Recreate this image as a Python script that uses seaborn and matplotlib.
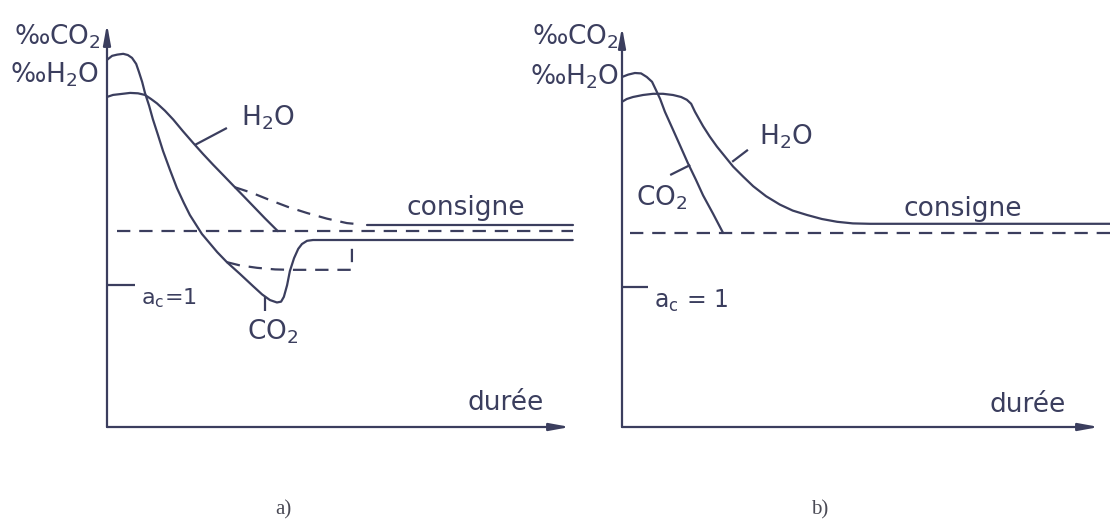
import matplotlib
matplotlib.use("Agg")
import matplotlib.pyplot as plt
import seaborn as sns

# ---------------------------------------------------------------------------
# Carburising atmosphere: CO2 and H2O content versus time (schematic curves)
# a) without correction, b) with correction of the setpoint ("consigne")
# Units are arbitrary: duration 0-10, concentration 0-10.
# ---------------------------------------------------------------------------

# panel a
co2_a_t = [0.00, 0.11, 0.22, 0.35, 0.45, 0.54, 0.63, 0.69, 0.76, 0.82, 0.91,
           0.99, 1.10, 1.21, 1.36, 1.51, 1.66, 1.79, 2.05, 2.38, 2.59, 2.87,
           3.15, 3.35, 3.52, 3.67, 3.76, 3.82, 3.89, 3.95, 4.04, 4.13, 4.21,
           4.32, 4.45, 10.06]
co2_a_pct = [9.11, 9.21, 9.24, 9.26, 9.23, 9.16, 9.01, 8.81, 8.56, 8.29, 7.97,
             7.64, 7.25, 6.85, 6.38, 5.93, 5.56, 5.26, 4.79, 4.34, 4.09, 3.80,
             3.50, 3.29, 3.15, 3.09, 3.11, 3.23, 3.52, 3.87, 4.19, 4.42, 4.54,
             4.62, 4.64, 4.64]

h2o_a_t = [0.00, 0.13, 0.28, 0.50, 0.67, 0.82, 0.95, 1.08, 1.25, 1.43, 1.64,
           1.86, 2.07, 2.29, 2.51, 2.72, 2.94, 3.15, 3.41, 3.69]
h2o_a_pct = [8.19, 8.24, 8.26, 8.29, 8.28, 8.24, 8.14, 8.03, 7.85, 7.63, 7.34,
             7.05, 6.78, 6.51, 6.25, 6.00, 5.74, 5.49, 5.18, 4.86]

# expected H2O course (dashed) and its settled level
h2o_a_exp_t = [2.76, 3.13, 3.52, 3.91, 4.32, 4.75, 5.18, 5.36]
h2o_a_exp_pct = [5.95, 5.81, 5.63, 5.46, 5.31, 5.17, 5.06, 5.04]
h2o_a_end_t = [5.62, 10.06]
h2o_a_end_pct = [5.01, 5.01]

# expected CO2 course (dashed)
co2_a_exp_t = [2.59, 2.87, 3.24, 3.63, 3.95, 5.29, 5.29]
co2_a_exp_pct = [4.09, 4.01, 3.95, 3.91, 3.90, 3.90, 4.64]

setpoint_a_t = [0.22, 10.06]
setpoint_a_pct = [4.86, 4.86]
ac_level_a = 3.52

# panel b
co2_b_t = [0.00, 0.13, 0.27, 0.40, 0.52, 0.63, 0.71, 0.80, 0.90, 1.07, 1.22,
           1.38, 1.55, 1.70, 1.91, 2.12]
co2_b_pct = [8.75, 8.81, 8.85, 8.84, 8.75, 8.63, 8.43, 8.20, 7.88, 7.43, 7.03,
             6.60, 6.18, 5.79, 5.33, 4.85]

h2o_b_t = [0.00, 0.10, 0.23, 0.44, 0.65, 0.86, 1.07, 1.24, 1.36, 1.45, 1.49,
           1.53, 1.61, 1.70, 1.84, 1.99, 2.16, 2.33, 2.54, 2.75, 3.02, 3.31,
           3.58, 3.88, 4.19, 4.51, 4.84, 5.20, 10.23]
h2o_b_pct = [8.13, 8.20, 8.25, 8.30, 8.33, 8.33, 8.30, 8.25, 8.18, 8.08, 7.98,
             7.88, 7.71, 7.52, 7.26, 7.01, 6.76, 6.51, 6.26, 6.02, 5.77, 5.56,
             5.41, 5.30, 5.20, 5.13, 5.09, 5.08, 5.08]

setpoint_b_t = [0.17, 10.23]
setpoint_b_pct = [4.85, 4.85]
ac_level_b = 3.50

# ---------------------------------------------------------------------------
sns.set_style("white")
plt.rcParams["font.family"] = ["DejaVu Sans"]
plt.rcParams["mathtext.default"] = "regular"

INK = "#3b3e5e"
LW = 1.6
DASH = (0, (6, 4))
FS = 19

W, H = 1110, 524
fig = plt.figure(figsize=(W / 100, H / 100), dpi=100)
fig.patch.set_facecolor("white")

ax_a = fig.add_axes([107 / W, 97 / H, 10.2 * 46.3 / W, 403 / H])
ax_b = fig.add_axes([622 / W, 97 / H, 10.25 * 47.7 / W, 400 / H])


def frame(ax, xmax, xarrow):
    ax.set_xlim(0, xmax)
    ax.set_ylim(0, 10)
    ax.set_axis_off()
    head = "-|>,head_length=1.2,head_width=0.22"
    for tip in ((0, 10), (xarrow, 0)):
        ax.annotate("", xy=tip, xytext=(0, 0), xycoords="data",
                    arrowprops=dict(arrowstyle=head, color=INK, lw=LW,
                                    shrinkA=0, shrinkB=0, mutation_scale=10))


def curve(ax, t, pct, dashed=False):
    sns.lineplot(x=t, y=pct, ax=ax, color=INK, linewidth=LW, sort=False,
                 estimator=None, linestyle=DASH if dashed else "-",
                 solid_joinstyle="round", dash_joinstyle="round")


def leader(ax, xs, ys):
    ax.plot(xs, ys, color=INK, lw=LW, solid_capstyle="butt")


def label(ax, x, y, s, ha="center", size=FS):
    ax.text(x, y, s, ha=ha, va="baseline", fontsize=size, color=INK)


# ---- panel a ----
frame(ax_a, 10.2, 10.0)
curve(ax_a, setpoint_a_t, setpoint_a_pct, dashed=True)
curve(ax_a, h2o_a_exp_t, h2o_a_exp_pct, dashed=True)
curve(ax_a, co2_a_exp_t, co2_a_exp_pct, dashed=True)
curve(ax_a, co2_a_t, co2_a_pct)
curve(ax_a, h2o_a_t, h2o_a_pct)
curve(ax_a, h2o_a_end_t, h2o_a_end_pct)

leader(ax_a, [0, 0.60], [ac_level_a, ac_level_a])
label(ax_a, 1.33, 3.03, "a$_c$=1", size=16)
leader(ax_a, [1.90, 2.59], [7.00, 7.42])
label(ax_a, 3.47, 7.49, "H$_2$O")
leader(ax_a, [3.41, 3.41], [3.22, 2.88])
label(ax_a, 3.59, 2.16, "CO$_2$")
label(ax_a, 7.75, 5.26, "consigne")
label(ax_a, 8.60, 0.42, "durée")
label(ax_a, -0.13, 9.48, "‰CO$_2$", ha="right")
label(ax_a, -0.17, 8.54, "‰H$_2$O", ha="right")

# ---- panel b ----
frame(ax_b, 10.25, 10.0)
curve(ax_b, setpoint_b_t, setpoint_b_pct, dashed=True)
curve(ax_b, co2_b_t, co2_b_pct)
curve(ax_b, h2o_b_t, h2o_b_pct)

leader(ax_b, [0, 0.55], [ac_level_b, ac_level_b])
label(ax_b, 1.44, 2.98, "a$_c$ = 1", size=17)
leader(ax_b, [2.31, 2.64], [6.63, 6.93])
label(ax_b, 3.43, 7.05, "H$_2$O")
leader(ax_b, [1.43, 1.01], [6.55, 6.30])
label(ax_b, 0.84, 5.55, "CO$_2$")
label(ax_b, 7.15, 5.28, "consigne")
label(ax_b, 8.51, 0.38, "durée")
label(ax_b, -0.06, 9.55, "‰CO$_2$", ha="right")
label(ax_b, -0.06, 8.55, "‰H$_2$O", ha="right")

# captions
for cx, s in ((283, "a)"), (820, "b)")):
    fig.text(cx / W, 1 - 510 / H, s, ha="center", va="center",
             family="Liberation Serif", fontsize=15, color="#4a4a55")

fig.savefig("out.png", dpi=100)
